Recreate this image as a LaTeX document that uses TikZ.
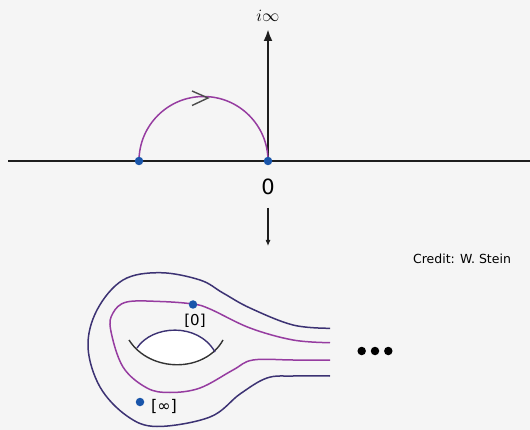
\documentclass[tikz,border=0pt]{standalone}
\usepackage{fontspec}
\setmainfont{DejaVu Sans}
\usetikzlibrary{arrows.meta}
\definecolor{bg}{RGB}{245,245,245}
\definecolor{axiscol}{RGB}{30,30,30}
\definecolor{purp}{RGB}{150,60,160}
\definecolor{navy}{RGB}{60,50,115}
\definecolor{dotblue}{RGB}{25,85,170}
\begin{document}
\begin{tikzpicture}[x=1pt,y=-1pt,
  axis/.style={draw=axiscol,line width=2.4pt},
  bdot/.style={circle,fill=dotblue,inner sep=0pt,minimum size=8.5pt},
  kdot/.style={circle,fill=black,inner sep=0pt,minimum size=8.5pt},
  contour/.style={draw=purp,line width=1.5pt},
  outer/.style={draw=navy,line width=1.5pt},
  lbl/.style={inner sep=0pt}]
\fill[bg] (0,0) rectangle (530,430);
\useasboundingbox (0,0) rectangle (530,430);
% axes
\coordinate (xl) at (8,161);
\coordinate (xr) at (530,161);
\draw[axis] (xl) -- (xr);
\coordinate (c1) at (139,161);
\coordinate (c0) at (268,161);
\coordinate (top) at (268,29);
\draw[axis,-{Latex[length=12pt,width=9pt]}] (c0) -- (top);
% semicircle
\draw[contour] (c1) arc[start angle=180,end angle=360,radius=64.5];
\draw[draw=axiscol!80,line width=1.4pt] (192,91) -- (208,98) -- (192,105.5);
\node[bdot] (p1) at (c1) {};
\node[bdot] (p0) at (c0) {};
\node[lbl,font=\fontsize{18}{18}\selectfont] (iinf) at (268,16) {$i\infty$};
\node[lbl,font=\fontsize{21}{21}\selectfont] (zero) at (268,187) {0};
% down arrow
\coordinate (da) at (268,208);
\coordinate (db) at (268,246);
\draw[axiscol,line width=1.1pt,-{Latex[length=6pt,width=5pt]}] (da) -- (db);
\node[lbl,font=\fontsize{12.5}{12.5}\selectfont] (credit) at (462,259) {Credit: W. Stein};
% outer curve
\draw[outer] plot[smooth,tension=0.6] coordinates {(330,328.3) (293,325) (250,308) (223,293) (200,280) (160,272.7) (123,280) (97,310) (88,347) (100,387) (127,416) (157,426.5) (210,417) (240,394) (267,378) (293,376) (330,376)};
% purple curve
\draw[contour] plot[smooth,tension=0.6] coordinates {(330,342.7) (293,340) (250,328) (210,309) (192.7,304) (160,301.5) (126.7,302) (113,313) (110.7,330) (123,367) (147,388) (170,392.5) (200,388) (233,370) (253,360) (293,360) (330,360)};
% hole
\fill[white] (137,348) .. controls (152,325) and (198,322) .. (215,352) .. controls (200,370) and (152,370) .. (137,348);
\draw[black!80,line width=1.4pt] (129,340) .. controls (150,373) and (205,373) .. (223,340);
\draw[navy,line width=1.4pt] (137,348) .. controls (152,325) and (198,322) .. (215,352);
% points
\node[bdot] (q0) at (193,304.5) {};
\node[lbl,font=\fontsize{15}{15}\selectfont] (l0) at (195,321) {[0]};
\node[bdot] (qi) at (140,402) {};
\node[lbl,font=\fontsize{16}{16}\selectfont] (li) at (164,406) {[∞]};
% dots
\node[kdot] (d1) at (361.7,351) {};
\node[kdot] (d2) at (375,351) {};
\node[kdot] (d3) at (388.3,351) {};
\end{tikzpicture}
\end{document}
